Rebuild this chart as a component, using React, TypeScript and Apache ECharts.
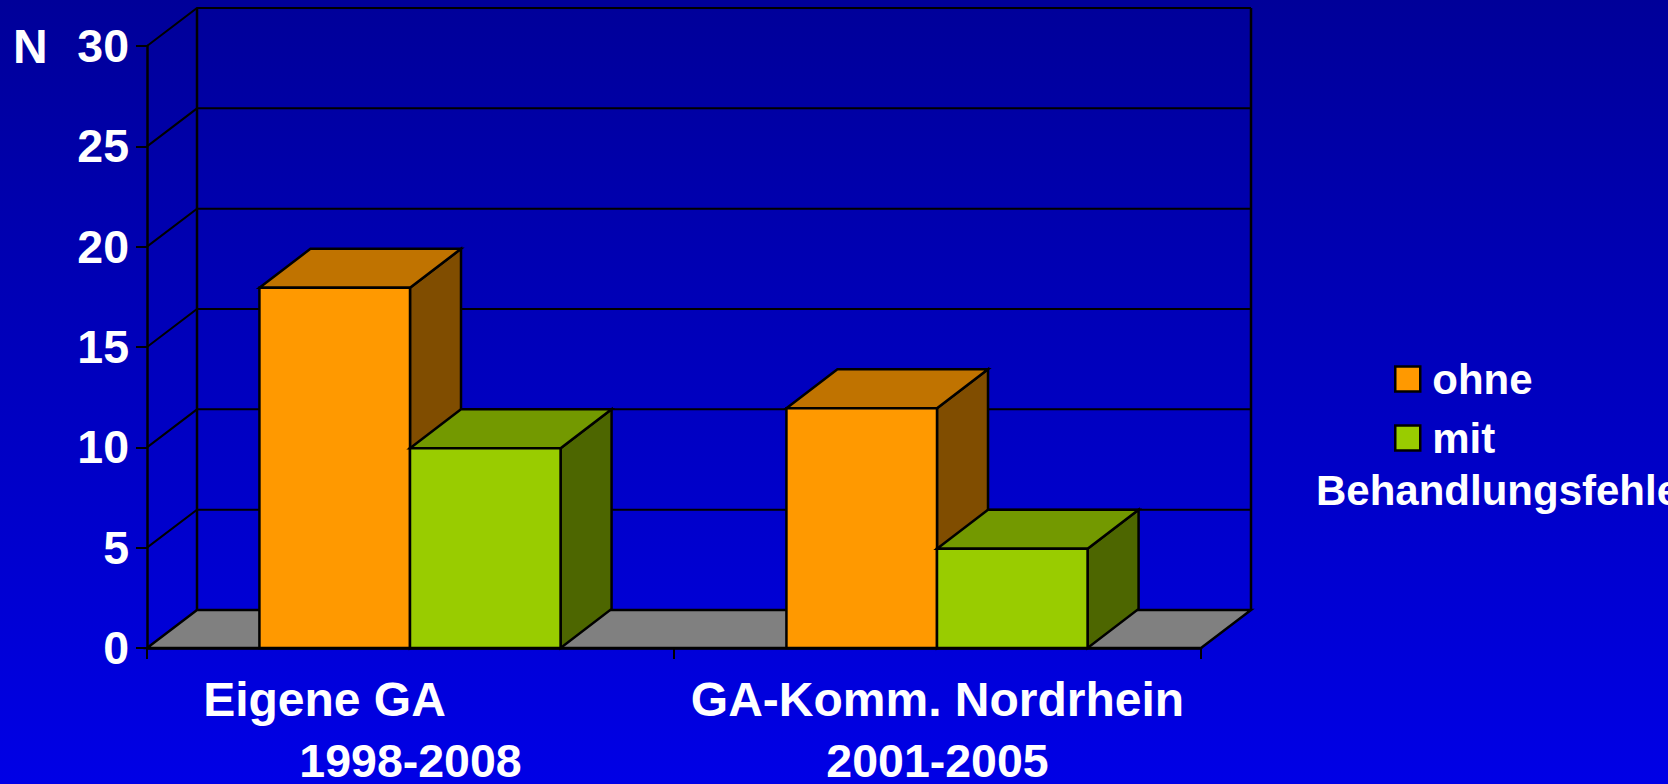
import React, { useEffect, useRef } from "react";
import * as echarts from "echarts";

const categories = ["Eigene GA", "GA-Komm. Nordrhein"];
const categoryYears = ["1998-2008", "2001-2005"];
const ohne = [18, 12];
const mit = [10, 5];
const yTicks = [0, 5, 10, 15, 20, 25, 30];
const seriesNames = ["ohne", "mit"];
const legendFooter = "Behandlungsfehler";
const axisName = "N";

const FONT = '"Liberation Sans", Arial, sans-serif';
const WALL_DX = 50;
const WALL_DY = 38;
const BAR_DX = 51;
const BAR_DY = 39;
const BAR_FRACTION = 1 / 3.5;
const BAR_NUDGE_X = -0.5;
const BAR_NUDGE_Y = 1;
const LINE = "#000000";

const palette = [
  { front: "#FF9900", top: "#C07300", side: "#804D00" },
  { front: "#99CC00", top: "#739900", side: "#4D6600" },
];

function barSeries(name: string, values: number[], idx: number) {
  const col = palette[idx];
  return {
    name,
    type: "custom",
    z: 3 + idx,
    clip: false,
    silent: true,
    itemStyle: { color: col.front, borderColor: LINE, borderWidth: 2.5 },
    encode: { x: 0, y: 1 },
    data: values.map((v, i) => [i, v]),
    renderItem: (_p: any, api: any) => {
      const cat = api.value(0);
      const [cx, yCoord] = api.coord([cat, api.value(1)]);
      const yTop = yCoord + BAR_NUDGE_Y;
      const [, yBase] = api.coord([cat, 0]);
      const w = api.size([1, 0])[0] * BAR_FRACTION;
      const x0 = cx + (idx - 1) * w + BAR_NUDGE_X;
      const x1 = x0 + w;
      const base = { stroke: LINE, lineWidth: 2.5, lineJoin: "miter" };
      return {
        type: "group",
        children: [
          {
            type: "polygon",
            shape: { points: [[x1, yTop], [x1 + BAR_DX, yTop - BAR_DY], [x1 + BAR_DX, yBase - BAR_DY], [x1, yBase]] },
            style: { ...base, fill: col.side },
          },
          {
            type: "polygon",
            shape: { points: [[x0, yTop], [x0 + BAR_DX, yTop - BAR_DY], [x1 + BAR_DX, yTop - BAR_DY], [x1, yTop]] },
            style: { ...base, fill: col.top },
          },
          {
            type: "rect",
            shape: { x: x0, y: yTop, width: w, height: yBase - yTop },
            style: { ...base, fill: col.front },
          },
        ],
      };
    },
  };
}

export default function App() {
  const ref = useRef<HTMLDivElement>(null);
  useEffect(() => {
    document.body.style.margin = "0";
    document.body.style.overflow = "hidden";
    const chart = echarts.init(ref.current!, undefined, { renderer: "svg" });
    chart.setOption({
      animation: false,
      backgroundColor: {
        type: "linear",
        x: 0,
        y: 0,
        x2: 0,
        y2: 1,
        colorStops: [
          { offset: 0, color: "#000099" },
          { offset: 1, color: "#0000E6" },
        ],
      },
      grid: { left: 147, top: 46, right: 467, bottom: 136, containLabel: false, outerBoundsMode: "none" },
      legend: {
        orient: "vertical",
        left: 1389,
        top: 350,
        data: seriesNames,
        selectedMode: false,
        icon: "rect",
        itemWidth: 25,
        itemHeight: 25,
        itemGap: 11,
        itemStyle: { borderColor: LINE, borderWidth: 2.5 },
        textStyle: { color: "#FFFFFF", fontFamily: FONT, fontWeight: "bold", fontSize: 42, lineHeight: 48, padding: [0, 0, 0, 7] },
      },
      xAxis: {
        type: "category",
        data: categories,
        z: 10,
        axisLine: { lineStyle: { color: LINE, width: 2.5 } },
        axisTick: { show: true, length: 11, alignWithLabel: false, lineStyle: { color: LINE, width: 2 } },
        splitLine: { show: false },
        axisLabel: {
          interval: 0,
          margin: 20,
          formatter: (v: string) => {
            const i = categories.indexOf(v);
            return `{${i === 0 ? "a" : "b"}|${v}}\n{c|${categoryYears[i]}}`;
          },
          rich: {
            a: { color: "#FFFFFF", fontFamily: FONT, fontWeight: "bold", fontSize: 48, lineHeight: 62, padding: [0, 172, 0, 0] },
            b: { color: "#FFFFFF", fontFamily: FONT, fontWeight: "bold", fontSize: 48, lineHeight: 62 },
            c: { color: "#FFFFFF", fontFamily: FONT, fontWeight: "bold", fontSize: 46.5, lineHeight: 62 },
          },
        },
      },
      yAxis: {
        type: "value",
        min: 0,
        max: 30,
        interval: 5,
        z: 10,
        axisLine: { show: true, lineStyle: { color: LINE, width: 2.5 } },
        axisTick: { show: true, length: 11, lineStyle: { color: LINE, width: 2 } },
        splitLine: { show: false },
        axisLabel: { color: "#FFFFFF", fontFamily: FONT, fontWeight: "bold", fontSize: 46.5, margin: 18 },
      },
      graphic: [
        {
          type: "text",
          x: 13,
          y: 22,
          style: { text: axisName, fill: "#FFFFFF", font: `bold 48px ${FONT}` },
        },
        {
          type: "text",
          x: 1316,
          y: 469,
          style: { text: legendFooter, fill: "#FFFFFF", font: `bold 42px ${FONT}` },
        },
      ],
      series: [
        {
          name: "wall",
          type: "custom",
          z: 2,
          clip: false,
          silent: true,
          encode: { y: 0 },
          data: yTicks.map((v) => [v]),
          renderItem: (params: any, api: any) => {
            const v = api.value(0);
            const cs = params.coordSys;
            const [, y] = api.coord([0, v]);
            const left = cs.x;
            const right = cs.x + cs.width;
            const stroke = { stroke: LINE, lineWidth: 2 };
            const children: any[] = [];
            if (v === 0) {
              children.push({
                type: "polygon",
                shape: { points: [[left, y], [left + WALL_DX, y - WALL_DY], [right + WALL_DX, y - WALL_DY], [right, y]] },
                style: { fill: "#808080", stroke: LINE, lineWidth: 2.5 },
              });
              children.push({
                type: "line",
                shape: { x1: left + WALL_DX, y1: cs.y - WALL_DY, x2: left + WALL_DX, y2: y - WALL_DY },
                style: { stroke: LINE, lineWidth: 2.5 },
              });
              children.push({
                type: "line",
                shape: { x1: right + WALL_DX, y1: cs.y - WALL_DY, x2: right + WALL_DX, y2: y - WALL_DY },
                style: { stroke: LINE, lineWidth: 2.5 },
              });
            } else {
              children.push({
                type: "polyline",
                shape: { points: [[left, y], [left + WALL_DX, y - WALL_DY], [right + WALL_DX, y - WALL_DY]] },
                style: { ...stroke, fill: "none" },
              });
            }
            return { type: "group", children };
          },
        },
        barSeries(seriesNames[0], ohne, 0),
        barSeries(seriesNames[1], mit, 1),
      ],
    });
    return () => chart.dispose();
  }, []);
  return <div ref={ref} style={{ width: 1668, height: 784 }} />;
}
